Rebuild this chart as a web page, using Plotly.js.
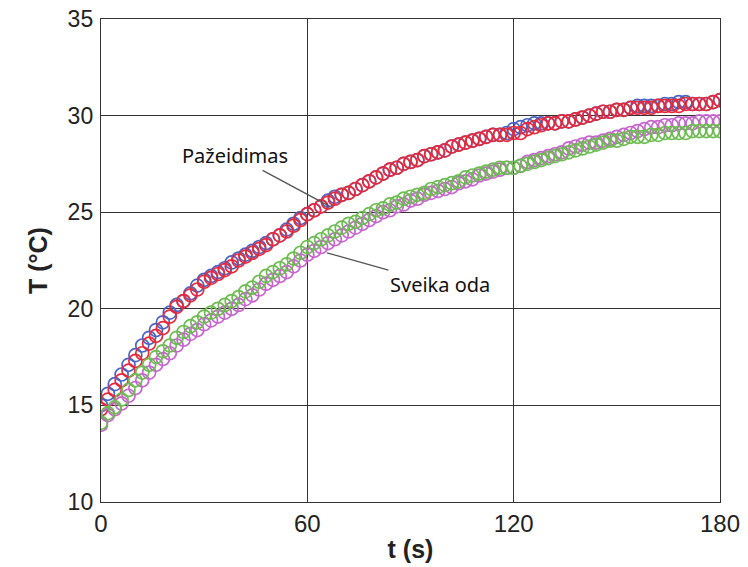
<!DOCTYPE html>
<html>
<head>
<meta charset="utf-8">
<script src="https://cdn.plot.ly/plotly-3.0.1.min.js"></script>
<style>html,body{margin:0;padding:0;background:#fff;}#chart{width:748px;height:567px;}</style>
</head>
<body>
<div id="chart"></div>
<script>
const time = [0,2,4,6,8,10,12,14,16,18,20,22,24,26,28,30,32,34,36,38,40,42,44,46,48,50,52,54,56,58,60,62,64,66,68,70,72,74,76,78,80,82,84,86,88,90,92,94,96,98,100,102,104,106,108,110,112,114,116,118,120,122,124,126,128,130,132,134,136,138,140,142,144,146,148,150,152,154,156,158,160,162,164,166,168,170,172,174,176,178,180];

const damagedBlue = [15.0,15.6,16.1,16.6,17.1,17.6,18.1,18.5,18.9,19.3,19.8,20.2,20.4,20.8,21.2,21.5,21.7,21.9,22.1,22.4,22.6,22.8,23.0,23.2,23.4,23.6,23.8,24.1,24.4,24.7,24.9,25.1,25.3,25.6,25.8,25.9,26.0,26.2,26.4,26.6,26.8,27.0,27.2,27.3,27.5,27.6,27.7,27.9,28.0,28.1,28.2,28.4,28.5,28.6,28.7,28.8,28.9,29.0,29.0,29.1,29.3,29.4,29.5,29.6,29.6,29.6,29.6,29.7,29.7,29.8,29.9,30.0,30.1,30.2,30.2,30.3,30.3,30.4,30.5,30.5,30.5,30.5,30.6,30.6,30.7,30.7,30.6,30.6,30.6,30.7,30.8];
const damagedRed = [14.8,15.3,15.8,16.3,16.8,17.3,17.7,18.2,18.6,19.0,19.6,20.1,20.4,20.7,21.0,21.4,21.6,21.8,22.0,22.2,22.5,22.7,22.9,23.1,23.3,23.6,23.8,24.0,24.3,24.6,24.9,25.1,25.3,25.5,25.7,25.9,26.0,26.2,26.4,26.6,26.8,27.0,27.2,27.3,27.5,27.6,27.7,27.9,28.0,28.1,28.2,28.4,28.5,28.6,28.7,28.8,28.9,29.0,29.0,29.0,29.1,29.1,29.3,29.4,29.5,29.6,29.6,29.7,29.7,29.8,29.9,30.0,30.1,30.2,30.2,30.3,30.3,30.4,30.4,30.4,30.4,30.5,30.5,30.5,30.5,30.6,30.6,30.6,30.6,30.7,30.8];
const healthyMagenta = [14.0,14.5,14.8,15.1,15.5,15.9,16.3,16.7,17.1,17.4,17.7,18.1,18.4,18.7,18.9,19.2,19.4,19.6,19.8,20.0,20.2,20.5,20.7,21.0,21.3,21.5,21.7,21.9,22.2,22.5,22.8,23.0,23.2,23.4,23.6,23.8,24.0,24.2,24.4,24.6,24.8,25.0,25.1,25.3,25.4,25.6,25.7,25.9,26.0,26.1,26.2,26.3,26.5,26.6,26.7,26.9,27.0,27.1,27.2,27.3,27.3,27.4,27.6,27.7,27.8,27.9,28.0,28.1,28.3,28.4,28.5,28.6,28.6,28.7,28.8,28.9,29.0,29.1,29.2,29.3,29.4,29.4,29.5,29.5,29.6,29.6,29.6,29.7,29.7,29.7,29.7];
const healthyGreen = [14.1,14.6,14.9,15.3,15.8,16.3,16.7,17.1,17.5,17.8,18.1,18.5,18.8,19.1,19.3,19.6,19.8,20.0,20.2,20.4,20.6,20.9,21.1,21.4,21.7,21.9,22.1,22.3,22.6,22.9,23.2,23.4,23.6,23.8,24.0,24.2,24.4,24.5,24.7,24.9,25.1,25.2,25.4,25.5,25.7,25.8,25.9,26.0,26.2,26.3,26.4,26.5,26.6,26.8,26.9,27.0,27.1,27.2,27.3,27.3,27.3,27.4,27.5,27.6,27.7,27.8,27.9,28.0,28.1,28.2,28.3,28.4,28.5,28.6,28.7,28.7,28.8,28.9,28.9,28.9,29.0,29.0,29.1,29.1,29.1,29.1,29.2,29.2,29.2,29.2,29.2];

const xTicks = [0,60,120,180];
const yTicks = [10,15,20,25,30,35];
const labelDamaged = 'Pažeidimas';
const labelHealthy = 'Sveika oda';

function series(y, color) {
  return {
    x: time, y: y, type: 'scatter', mode: 'markers', showlegend: false, hoverinfo: 'skip',
    marker: {symbol: 'circle-open', size: 13, color: color, line: {width: 1.7, color: color}}
  };
}

const data = [
  series(damagedBlue, '#4a64c4'),
  series(damagedRed, '#e42a3c'),
  series(healthyMagenta, '#c466cc'),
  series(healthyGreen, '#6dbb52')
];

const titleFont = {family: 'Liberation Sans, Arial, sans-serif', size: 25, color: '#222'};
const layout = {
  width: 748, height: 567,
  margin: {l: 101, r: 28, t: 19, b: 65},
  paper_bgcolor: '#fff', plot_bgcolor: '#fff',
  xaxis: {
    range: [0, 180], tickvals: xTicks, ticktext: xTicks.map(String),
    showgrid: true, gridcolor: '#333', gridwidth: 1.2,
    showline: true, linecolor: '#333', linewidth: 1.2, mirror: true,
    zeroline: false, ticks: '',
    tickfont: {family: 'Liberation Sans Narrow, Arial Narrow, Liberation Sans, sans-serif', size: 24, color: '#222'},
    title: {text: '<b>t (s)</b>', font: titleFont, standoff: 4}
  },
  yaxis: {
    range: [10, 35], tickvals: yTicks, ticktext: yTicks.map(String),
    showgrid: true, gridcolor: '#333', gridwidth: 1.2,
    showline: true, linecolor: '#333', linewidth: 1.2, mirror: true,
    zeroline: false, ticks: '',
    tickfont: {family: 'Liberation Sans, Arial, sans-serif', size: 23, color: '#222'},
    ticklabelstandoff: 2,
    title: {text: '<b>T (°C)</b>', font: titleFont, standoff: 12}
  },
  annotations: [
    {x: 66.5, y: 25.3, xref: 'x', yref: 'y', text: labelDamaged, showarrow: true, arrowhead: 0, arrowwidth: 1.3, arrowcolor: '#555',
     ax: -95, ay: -51, font: {family: 'Noto Sans, sans-serif', size: 20, color: '#111'}, standoff: 0},
    {x: 65.7, y: 22.9, xref: 'x', yref: 'y', text: labelHealthy, showarrow: true, arrowhead: 0, arrowwidth: 1.3, arrowcolor: '#555',
     ax: 113, ay: 32, font: {family: 'Noto Sans, sans-serif', size: 20, color: '#111'}, standoff: 0}
  ]
};

Plotly.newPlot('chart', data, layout, {staticPlot: true});
</script>
</body>
</html>
